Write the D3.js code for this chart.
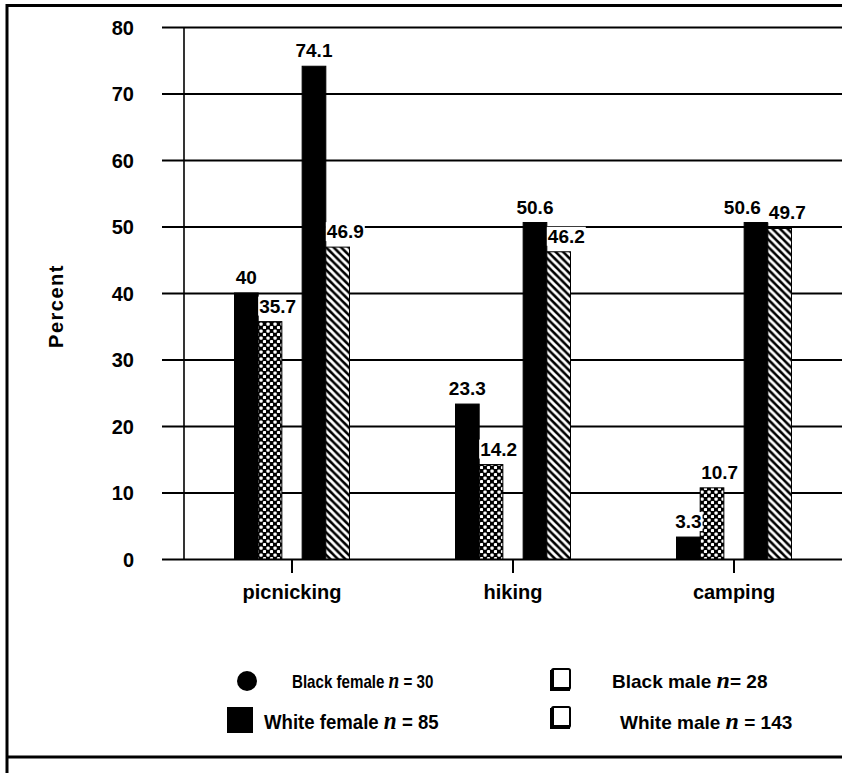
<!DOCTYPE html>
<html><head><meta charset="utf-8">
<script src="https://cdn.jsdelivr.net/npm/d3@7"></script>
<style>
body{margin:0;background:#fff;}
svg{display:block;font-family:"Liberation Sans",Arial,Helvetica,sans-serif;}
</style></head><body>
<svg id="chart" width="842" height="773"></svg>
<script>
// ---- data ----
const categories = ["picnicking", "hiking", "camping"];
const blackFemale = [40, 23.3, 3.3];
const blackMale = [35.7, 14.2, 10.7];
const whiteFemale = [74.1, 50.6, 50.6];
const whiteMale = [46.9, 46.2, 49.7];
const seriesNames = ["Black female", "Black male", "White female", "White male"];
const seriesN = [30, 28, 85, 143];
const yTicks = [0, 10, 20, 30, 40, 50, 60, 70, 80];
const yTitle = "Percent";

const series = [
  {name: seriesNames[0], race: "Black", sex: "female", fill: "#000", values: blackFemale, n: seriesN[0]},
  {name: seriesNames[1], race: "Black", sex: "male", fill: "url(#checker)", values: blackMale, n: seriesN[1]},
  {name: seriesNames[2], race: "White", sex: "female", fill: "#000", values: whiteFemale, n: seriesN[2]},
  {name: seriesNames[3], race: "White", sex: "male", fill: "url(#hatch)", values: whiteMale, n: seriesN[3]}
];

const svg = d3.select("#chart");
const W = 842, H = 773;

// ---- patterns ----
const defs = svg.append("defs");
const cs = 7;
const chk = defs.append("pattern").attr("id", "checker").attr("patternUnits", "userSpaceOnUse")
  .attr("width", cs).attr("height", cs);
chk.append("rect").attr("width", cs).attr("height", cs).attr("fill", "#000");
chk.append("rect").attr("x", 0.4).attr("y", 0.4).attr("width", 3.3).attr("height", 3.3).attr("rx", 1.2).attr("fill", "#fff");
chk.append("rect").attr("x", 3.9).attr("y", 3.9).attr("width", 3.3).attr("height", 3.3).attr("rx", 1.2).attr("fill", "#fff");

const hs = 7.5;
const hat = defs.append("pattern").attr("id", "hatch").attr("patternUnits", "userSpaceOnUse")
  .attr("width", hs).attr("height", hs);
hat.append("rect").attr("width", hs).attr("height", hs).attr("fill", "#000");
hat.append("path")
  .attr("d", `M-2,-2L${hs+2},${hs+2}M-2,${hs-2}L2,${hs+2}M${hs-2},-2L${hs+2},2`)
  .attr("stroke", "#fff").attr("stroke-width", 2.8);

// ---- frame ----
svg.append("line").attr("x1", 7).attr("x2", W).attr("y1", 5.5).attr("y2", 5.5).attr("stroke", "#000").attr("stroke-width", 3);
svg.append("line").attr("x1", 7).attr("x2", 7).attr("y1", 4).attr("y2", H).attr("stroke", "#000").attr("stroke-width", 3);
svg.append("line").attr("x1", 7).attr("x2", W).attr("y1", 757).attr("y2", 757).attr("stroke", "#000").attr("stroke-width", 3);

// ---- scales ----
const y = d3.scaleLinear().domain([0, 80]).range([559, 27]);
const x0 = d3.scaleBand().domain(categories).range([181.5, 844.5]);
const xRace = d3.scaleBand().domain(["Black", "White"]).range([-57.5, 57.5]).paddingInner(0.3);
const xSex = d3.scaleBand().domain(["female", "male"]).range([0, xRace.bandwidth()]);
const barX = (cat, s) => x0(cat) + x0.bandwidth() / 2 + xRace(s.race) + xSex(s.sex);

// ---- tick labels / gridlines ----
const yAxis = d3.axisLeft(y).tickValues(yTicks).tickSize(0).tickPadding(0).tickFormat(d3.format("d"));
const yG = svg.append("g").attr("transform", "translate(134,0)").call(yAxis);
yG.select(".domain").remove();
yG.selectAll("text").attr("font-size", 20).attr("font-weight", "bold").attr("fill", "#000")
  .attr("font-family", "'Liberation Sans',Arial,sans-serif").attr("dy", "0.35em");

const grid = d3.axisLeft(y).tickValues(yTicks).tickSize(-(W - 162)).tickFormat("");
const gG = svg.append("g").attr("transform", "translate(162,0)").call(grid);
gG.select(".domain").remove();
gG.selectAll("line").attr("stroke", "#000").attr("stroke-width", 2.2);

svg.append("line").attr("x1", 184).attr("x2", 184).attr("y1", y(80)).attr("y2", y(0))
  .attr("stroke", "#000").attr("stroke-width", 1.6);

const xAxis = d3.axisBottom(x0).tickSize(14).tickPadding(12);
const xG = svg.append("g").attr("transform", `translate(0,${y(0)})`).call(xAxis);
xG.select(".domain").remove();
xG.selectAll("line").attr("stroke", "#000").attr("stroke-width", 2);
xG.selectAll("text").attr("font-size", 20).attr("font-weight", "bold").attr("fill", "#000")
  .attr("font-family", "'Liberation Sans',Arial,sans-serif");

svg.append("text").attr("transform", `translate(63,306) rotate(-90)`)
  .attr("text-anchor", "middle").attr("font-size", 20).attr("font-weight", "bold")
  .attr("letter-spacing", 1.5).text(yTitle);

// ---- bars ----
const barsG = svg.append("g");
series.forEach(s => {
  barsG.selectAll(null).data(categories.map((c, i) => ({c, v: s.values[i]}))).enter()
    .append("rect")
    .attr("x", d => barX(d.c, s))
    .attr("width", xSex.bandwidth())
    .attr("y", d => y(d.v))
    .attr("height", d => y(0) - y(d.v))
    .attr("fill", s.fill)
    .attr("stroke", "#000").attr("stroke-width", 1);
});

// ---- value labels ----
const labG = svg.append("g");
const labels = [];
categories.forEach((c, i) => {
  ["Black", "White"].forEach(race => {
    const f = series.find(s => s.race === race && s.sex === "female");
    const m = series.find(s => s.race === race && s.sex === "male");
    // male label: starts at the left edge of its bar
    const mt = labG.append("text").attr("x", barX(c, m) + 1).attr("y", y(m.values[i]) - 9)
      .attr("text-anchor", "start").text(d3.format("")(m.values[i]));
    // female label: centred on its bar, pushed left if it meets the male label
    const fx = barX(c, f) + xSex.bandwidth() / 2;
    const ft = labG.append("text").attr("x", fx).attr("y", y(f.values[i]) - 9)
      .attr("text-anchor", "middle").text(d3.format("")(f.values[i]));
    labG.selectAll("text").attr("font-size", 19).attr("font-weight", "bold");
    const mb = mt.node().getBBox(), fb = ft.node().getBBox();
    const vOverlap = Math.abs(y(m.values[i]) - y(f.values[i])) < 16;
    if (vOverlap && fb.x + fb.width > mb.x - 8) {
      ft.attr("text-anchor", "end").attr("x", mb.x - 8);
    }
    labels.push(mt, ft);
  });
});
labels.forEach(t => {
  const bb = t.node().getBBox();
  labG.insert("rect", "text").attr("x", bb.x - 1).attr("y", bb.y + 1).attr("width", bb.width + 2)
    .attr("height", bb.height - 2).attr("fill", "#fff");
});

// ---- legend ----
const leg = svg.append("g");
const legendPos = [
  {ix: 247, iy: 681, tx: 292, ty: 688, fs: 18, sc: 0.84},
  {ix: 561, iy: 679, tx: 612, ty: 688, fs: 19, sc: 1.0},
  {ix: 240, iy: 720, tx: 264, ty: 729, fs: 20, sc: 0.93},
  {ix: 561, iy: 717, tx: 620, ty: 729, fs: 19, sc: 1.0}
];
series.forEach((s, i) => {
  const p = legendPos[i];
  if (i === 0) {
    leg.append("circle").attr("cx", p.ix).attr("cy", p.iy).attr("r", 10).attr("fill", "#000");
  } else if (i === 2) {
    leg.append("rect").attr("x", p.ix - 13).attr("y", p.iy - 13).attr("width", 26).attr("height", 26).attr("fill", "#000");
  } else {
    leg.append("rect").attr("x", p.ix - 9).attr("y", p.iy - 10).attr("width", 18).attr("height", 20)
      .attr("fill", "#fff").attr("stroke", "#000").attr("stroke-width", 2).attr("rx", 1.5);
    leg.append("path").attr("d", `M${p.ix - 9},${p.iy - 9}V${p.iy + 10}H${p.ix + 9}`)
      .attr("fill", "none").attr("stroke", "#000").attr("stroke-width", 4);
  }
  const g = leg.append("g").attr("transform", `translate(${p.tx},${p.ty}) scale(${p.sc},1)`);
  const t = g.append("text").attr("font-size", p.fs).attr("font-weight", "bold");
  t.append("tspan").text(s.name + " ");
  t.append("tspan").attr("font-family", "'Liberation Serif','Times New Roman',serif")
    .attr("font-style", "italic").attr("font-size", p.fs + 5).text("n");
  t.append("tspan").text((i === 1 ? "= " : " = ") + s.n);
});
</script>
</body></html>
